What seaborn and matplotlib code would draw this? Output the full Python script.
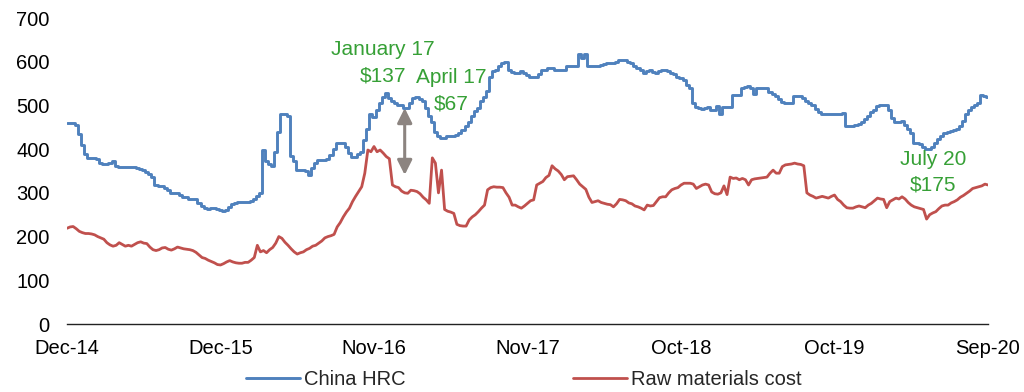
import numpy as np
import pandas as pd
import seaborn as sns
import matplotlib
matplotlib.use("Agg")
import matplotlib.pyplot as plt
import matplotlib.dates as mdates

# Weekly prices, US$/t, Dec-2014 .. Sep-2020
start_date = "2014-12-26"

china_hrc = [
    460, 460, 460, 455, 435, 410, 390, 380, 380, 380, 378, 368, 366, 366, 368, 372, 362, 360, 360, 360,
    360, 360, 360, 358, 355, 352, 348, 342, 336, 318, 316, 316, 312, 306, 300, 300, 300, 296, 291, 290,
    285, 285, 285, 276, 270, 265, 262, 266, 266, 262, 261, 259, 260, 268, 275, 276, 278, 280, 280, 280,
    281, 285, 292, 300, 398, 372, 366, 362, 394, 440, 481, 481, 476, 385, 372, 352, 352, 352, 350, 341,
    356, 368, 375, 375, 375, 378, 387, 400, 415, 415, 414, 406, 392, 381, 381, 389, 394, 421, 445, 480,
    474, 490, 505, 520, 528, 516, 510, 505, 501, 500, 495, 494, 505, 516, 519, 514, 509, 495, 475, 463,
    440, 430, 425, 425, 429, 429, 430, 432, 436, 444, 452, 463, 475, 488, 495, 509, 520, 532, 565, 578,
    581, 590, 598, 600, 580, 576, 575, 575, 578, 575, 570, 564, 564, 564, 572, 581, 582, 585, 585, 580,
    580, 580, 580, 590, 590, 590, 590, 618, 608, 618, 590, 590, 590, 590, 592, 594, 597, 598, 598, 600,
    603, 604, 603, 600, 597, 590, 585, 582, 575, 578, 580, 576, 574, 578, 580, 580, 578, 575, 572, 566,
    562, 558, 547, 540, 505, 496, 494, 492, 495, 496, 490, 490, 499, 480, 496, 496, 496, 524, 524, 524,
    540, 543, 545, 540, 526, 539, 539, 539, 539, 530, 526, 522, 515, 508, 505, 505, 505, 522, 522, 522,
    518, 511, 505, 500, 492, 485, 481, 481, 481, 481, 481, 481, 481, 482, 452, 452, 452, 455, 458, 462,
    468, 476, 484, 490, 498, 501, 501, 501, 490, 471, 462, 463, 464, 456, 445, 436, 414, 413, 412, 405,
    400, 400, 405, 415, 424, 430, 436, 440, 442, 444, 446, 452, 465, 480, 490, 497, 500, 505, 524, 522,
    520,
]

raw_materials = [
    219, 222, 223, 218, 212, 209, 207, 207, 206, 204, 200, 197, 194, 186, 181, 178, 180, 186, 182, 178,
    180, 178, 182, 186, 188, 185, 184, 176, 170, 168, 170, 174, 175, 171, 169, 172, 176, 174, 172, 171,
    170, 168, 164, 158, 152, 150, 146, 143, 140, 136, 135, 138, 142, 145, 142, 140, 139, 139, 141, 141,
    146, 152, 180, 165, 168, 163, 170, 175, 185, 200, 196, 187, 180, 172, 165, 160, 163, 165, 170, 173,
    178, 180, 185, 190, 197, 200, 202, 205, 222, 232, 245, 256, 265, 280, 292, 303, 314, 345, 398, 394,
    406, 394, 398, 391, 383, 378, 318, 314, 312, 304, 300, 299, 306, 305, 303, 298, 290, 284, 276, 380,
    368, 300, 352, 262, 258, 256, 253, 228, 225, 224, 224, 238, 245, 250, 257, 265, 272, 307, 312, 314,
    313, 313, 312, 300, 290, 272, 272, 268, 265, 270, 276, 282, 284, 318, 322, 326, 335, 340, 362, 355,
    350, 342, 330, 337, 338, 339, 330, 320, 314, 308, 290, 278, 280, 282, 278, 276, 274, 273, 268, 275,
    285, 284, 282, 277, 275, 270, 268, 265, 261, 272, 270, 271, 280, 289, 291, 291, 300, 307, 310, 312,
    318, 322, 322, 322, 320, 310, 314, 318, 320, 318, 302, 298, 297, 300, 316, 296, 336, 333, 334, 330,
    333, 330, 318, 330, 332, 333, 334, 335, 336, 345, 352, 345, 345, 360, 364, 365, 366, 368, 366, 365,
    362, 300, 295, 292, 288, 290, 292, 290, 288, 292, 295, 285, 280, 272, 266, 265, 265, 268, 270, 268,
    266, 272, 276, 282, 288, 286, 285, 266, 280, 284, 288, 286, 291, 286, 278, 272, 268, 266, 264, 262,
    240, 250, 254, 257, 264, 270, 272, 272, 277, 280, 284, 290, 294, 299, 304, 310, 312, 314, 316, 320,
    318,
]

series_names = ["China HRC", "Raw materials cost"]
series_colors = ["#4f81bd", "#c0504d"]

# Spread call-outs: week index, month label, spread label
note_weeks = [103, 125, 282]
note_months = ["January 17", "April 17", "July 20"]
note_spreads = ["$137", "$67", "$175"]
note_levels = [597, 534, 347]
# Vertical spread marker at January 2017
spread_week = 110
spread_range = [341, 494]

dates = pd.date_range(start_date, periods=len(china_hrc), freq="7D")
hrc_df = pd.DataFrame({"date": dates, "value": china_hrc, "series": series_names[0]})
raw_df = pd.DataFrame({"date": dates, "value": raw_materials, "series": series_names[1]})

sns.set_theme(style="white")
plt.rcParams["font.family"] = ["Liberation Sans", "DejaVu Sans"]

fig = plt.figure(figsize=(10.24, 3.92), dpi=100)
ax = fig.add_axes([67 / 1024, 1 - 324 / 392, 921 / 1024, 306 / 392])

# HRC quotes move in weekly steps; the cost index is drawn as a plain line
sns.lineplot(data=hrc_df, x="date", y="value", hue="series",
             palette={series_names[0]: series_colors[0]},
             linewidth=2.1, drawstyle="steps-mid", ax=ax)
sns.lineplot(data=raw_df, x="date", y="value", hue="series",
             palette={series_names[1]: series_colors[1]},
             linewidth=2.0, ax=ax)

ax.set_xlim(dates[0], dates[-1])
ax.set_ylim(0, 700)
ax.set_yticks(range(0, 701, 100))
ax.set_xticks(dates[::50])
ax.xaxis.set_major_formatter(mdates.DateFormatter("%b-%y"))
ax.set_xlabel("")
ax.set_ylabel("")

for side in ["left", "top", "right"]:
    ax.spines[side].set_visible(False)
ax.spines["bottom"].set_color("#222222")
ax.spines["bottom"].set_linewidth(1.0)
ax.tick_params(axis="x", direction="out", length=6, width=1, color="#222222",
               labelsize=14.5, labelcolor="black", pad=5)
ax.tick_params(axis="y", length=0, labelsize=14.5, labelcolor="black", pad=12.5)

green = "#36a036"
for wk, month, spread, level in zip(note_weeks, note_months, note_spreads, note_levels):
    for txt, dy in ((month, 9.4), (spread, -9.4)):
        ax.annotate(txt, xy=(dates[wk], level), xytext=(0, dy),
                    textcoords="offset points", ha="center", va="center",
                    color=green, fontsize=15)

ax.annotate("", xy=(dates[spread_week], spread_range[1]),
            xytext=(dates[spread_week], spread_range[0]),
            arrowprops=dict(arrowstyle="<|-|>", color="#8c8480", lw=2.2,
                            mutation_scale=22, shrinkA=0, shrinkB=0))

handles, labels = ax.get_legend_handles_labels()
ax.legend(handles, labels, loc="center", bbox_to_anchor=(0.496, -0.183), ncol=2,
          frameon=False, fontsize=14.5, handlelength=2.7,
          handletextpad=0.2, columnspacing=8.3)

fig.savefig("out.png", dpi=100)
